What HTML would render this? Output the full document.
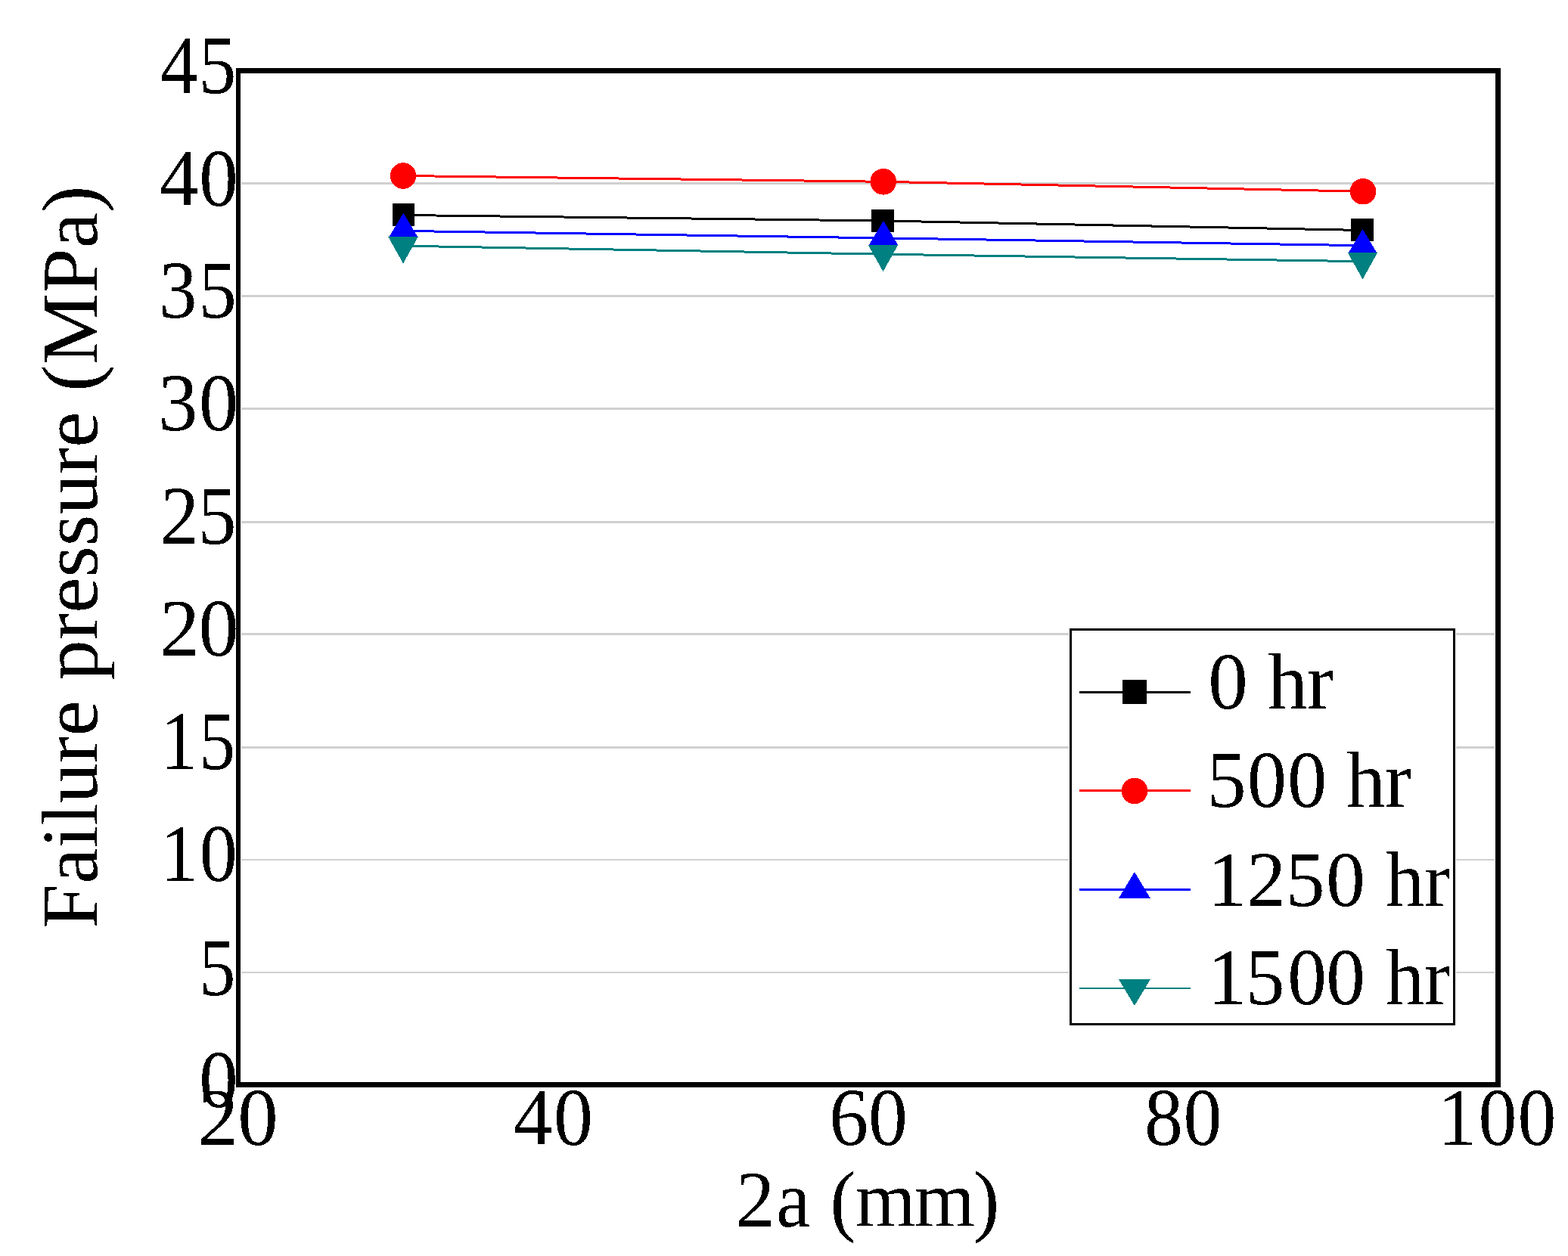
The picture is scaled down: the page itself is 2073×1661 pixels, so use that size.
<!DOCTYPE html>
<html><head><meta charset="utf-8"><title>Failure pressure vs 2a</title>
<style>html,body{margin:0;padding:0;background:#fff;overflow:hidden;}svg{display:block;}</style>
</head><body>
<svg width="2073" height="1661" viewBox="0 0 2073 1661" shape-rendering="crispEdges">
<defs><filter id="alias" x="0" y="0" width="1" height="1" filterUnits="objectBoundingBox" color-interpolation-filters="sRGB"><feComponentTransfer><feFuncA type="discrete" tableValues="0 1"/></feComponentTransfer></filter></defs>
<rect x="0" y="0" width="2073" height="1661" fill="#fff"/>
<rect x="319" y="241" width="1657" height="3" fill="#d0d0d0"/>
<rect x="319" y="390" width="1657" height="3" fill="#d0d0d0"/>
<rect x="319" y="539" width="1657" height="3" fill="#d0d0d0"/>
<rect x="319" y="689" width="1657" height="3" fill="#d0d0d0"/>
<rect x="319" y="837" width="1657" height="3" fill="#d0d0d0"/>
<rect x="319" y="987" width="1657" height="3" fill="#d0d0d0"/>
<rect x="319" y="1136" width="1657" height="2" fill="#d0d0d0"/>
<rect x="319" y="1285" width="1657" height="2" fill="#d0d0d0"/>
<polyline points="533.5,284.5 1167.0,292.0 1801.0,304.5" fill="none" stroke="#000000" stroke-width="3"/>
<polyline points="533.0,232.5 1167.7,240.3 1802.0,253.2" fill="none" stroke="#ff0000" stroke-width="3"/>
<polyline points="533.3,305.4 1168.0,314.9 1801.5,324.7" fill="none" stroke="#0000ff" stroke-width="3"/>
<polyline points="533.0,325.2 1167.5,336.2 1801.5,345.7" fill="none" stroke="#008080" stroke-width="3"/>
<rect x="518.60" y="269.10" width="29.8" height="29.8" fill="#000000"/>
<rect x="1152.10" y="277.10" width="29.8" height="29.8" fill="#000000"/>
<rect x="1786.10" y="289.10" width="29.8" height="29.8" fill="#000000"/>
<circle cx="533.0" cy="232.5" r="17.3" fill="#ff0000"/>
<circle cx="1167.7" cy="240.3" r="17.3" fill="#ff0000"/>
<circle cx="1802.0" cy="253.2" r="17.3" fill="#ff0000"/>
<polygon points="533.30,281.80 552.80,314.30 513.80,314.30" fill="#0000ff"/>
<polygon points="1168.00,291.80 1187.50,324.30 1148.50,324.30" fill="#0000ff"/>
<polygon points="1801.50,302.90 1821.00,335.40 1782.00,335.40" fill="#0000ff"/>
<polygon points="533.00,348.50 552.75,313.20 513.25,313.20" fill="#008080"/>
<polygon points="1167.50,359.20 1187.25,323.90 1147.75,323.90" fill="#008080"/>
<polygon points="1801.50,369.30 1821.25,334.00 1781.75,334.00" fill="#008080"/>
<rect x="312" y="90" width="6" height="1348" fill="#000"/>
<rect x="312" y="90" width="1672" height="7" fill="#000"/>
<rect x="1977" y="90" width="7" height="1348" fill="#000"/>
<rect x="312" y="1431" width="1672" height="7" fill="#000"/>
<text transform="translate(212.05,123.03) scale(0.9332,1.0256)" dx="-0.28 0.93" font-family="'Liberation Serif', 'Times New Roman', serif" font-size="107" filter="url(#alias)">45</text>
<text transform="translate(211.99,271.84) scale(0.9620,1.0124)" dx="-1.06 0.76" font-family="'Liberation Serif', 'Times New Roman', serif" font-size="107" filter="url(#alias)">40</text>
<text transform="translate(211.19,419.84) scale(0.9386,1.0154)" dx="-1.00 2.15" font-family="'Liberation Serif', 'Times New Roman', serif" font-size="107" filter="url(#alias)">35</text>
<text transform="translate(211.01,568.64) scale(0.9744,1.0110)" dx="-1.78 1.62" font-family="'Liberation Serif', 'Times New Roman', serif" font-size="107" filter="url(#alias)">30</text>
<text transform="translate(209.31,718.93) scale(0.9550,1.0238)" dx="2.74 -1.56" font-family="'Liberation Serif', 'Times New Roman', serif" font-size="107" filter="url(#alias)">25</text>
<text transform="translate(209.14,866.65) scale(0.9916,1.0041)" dx="1.85 -1.61" font-family="'Liberation Serif', 'Times New Roman', serif" font-size="107" filter="url(#alias)">20</text>
<text transform="translate(215.48,1016.93) scale(0.8949,1.0226)" dx="-3.02 2.90" font-family="'Liberation Serif', 'Times New Roman', serif" font-size="107" filter="url(#alias)">15</text>
<text transform="translate(215.12,1165.44) scale(0.9335,1.0138)" dx="-3.68 2.41" font-family="'Liberation Serif', 'Times New Roman', serif" font-size="107" filter="url(#alias)">10</text>
<text transform="translate(263.30,1315.94) scale(0.9002,1.0126)" font-family="'Liberation Serif', 'Times New Roman', serif" font-size="107" filter="url(#alias)">5</text>
<text transform="translate(263.18,1463.74) scale(0.9614,1.0110)" font-family="'Liberation Serif', 'Times New Roman', serif" font-size="107" filter="url(#alias)">0</text>
<text transform="translate(260.19,1513.94) scale(1.0008,1.0138)" dx="1.63 -1.04" font-family="'Liberation Serif', 'Times New Roman', serif" font-size="107" filter="url(#alias)">20</text>
<text transform="translate(679.97,1513.84) scale(0.9719,1.0110)" dx="-1.20 1.24" font-family="'Liberation Serif', 'Times New Roman', serif" font-size="107" filter="url(#alias)">40</text>
<text transform="translate(1096.34,1513.94) scale(0.9702,1.0138)" dx="0.02 -0.18" font-family="'Liberation Serif', 'Times New Roman', serif" font-size="107" filter="url(#alias)">60</text>
<text transform="translate(1514.02,1513.94) scale(0.9509,1.0138)" dx="-1.12 0.71" font-family="'Liberation Serif', 'Times New Roman', serif" font-size="107" filter="url(#alias)">80</text>
<text transform="translate(1904.94,1513.84) scale(0.9529,1.0110)" dx="-4.09 2.56 1.07" font-family="'Liberation Serif', 'Times New Roman', serif" font-size="107" filter="url(#alias)">100</text>
<text transform="translate(970.47,1622.28) scale(0.9633,0.9843)" dx="2.32 1.79 0.00 0.10 -1.32 -1.84 -2.36" font-family="'Liberation Serif', 'Times New Roman', serif" font-size="107" filter="url(#alias)">2a (mm)</text>
<text transform="translate(128.46,1228.07) rotate(-90) scale(0.9962,0.9895)" font-family="'Liberation Serif', 'Times New Roman', serif" font-size="107" filter="url(#alias)">Failure pressure (MPa)</text>
<rect x="1413" y="830" width="512" height="527" fill="#fff"/>
<rect x="1415.5" y="832.5" width="507" height="522" fill="#fff" stroke="#000" stroke-width="3"/>
<rect x="1427" y="913.9" width="147" height="3" fill="#000000"/>
<rect x="1484.00" y="899.00" width="32" height="32" fill="#000000"/>
<text transform="translate(1597.50,936.68) scale(0.9826,0.9803)" dx="-0.13 0.00 0.08 -0.98" font-family="'Liberation Serif', 'Times New Roman', serif" font-size="107" filter="url(#alias)">0 hr</text>
<rect x="1427" y="1044.0" width="147" height="3" fill="#ff0000"/>
<circle cx="1500" cy="1046.0" r="17.3" fill="#ff0000"/>
<text transform="translate(1597.03,1067.07) scale(0.9761,0.9842)" dx="-1.52 0.99 0.95 0.00 -0.78 -0.68" font-family="'Liberation Serif', 'Times New Roman', serif" font-size="107" filter="url(#alias)">500 hr</text>
<rect x="1427" y="1175.0" width="147" height="3" fill="#0000ff"/>
<polygon points="1500,1153.0 1521.0,1188.0 1479.0,1188.0" fill="#0000ff"/>
<text transform="translate(1600.63,1197.58) scale(0.9648,0.9763)" dx="-4.38 0.57 -0.24 1.67 0.00 0.88 -0.06" font-family="'Liberation Serif', 'Times New Roman', serif" font-size="107" filter="url(#alias)">1250 hr</text>
<rect x="1427" y="1305.75" width="147" height="2.5" fill="#008080"/>
<polygon points="1500,1330.0 1521.0,1295.0 1479.0,1295.0" fill="#008080"/>
<text transform="translate(1600.63,1327.98) scale(0.9648,0.9803)" dx="-4.38 -1.00 3.64 -0.64 0.00 0.88 -0.06" font-family="'Liberation Serif', 'Times New Roman', serif" font-size="107" filter="url(#alias)">1500 hr</text>
</svg>
</body></html>
